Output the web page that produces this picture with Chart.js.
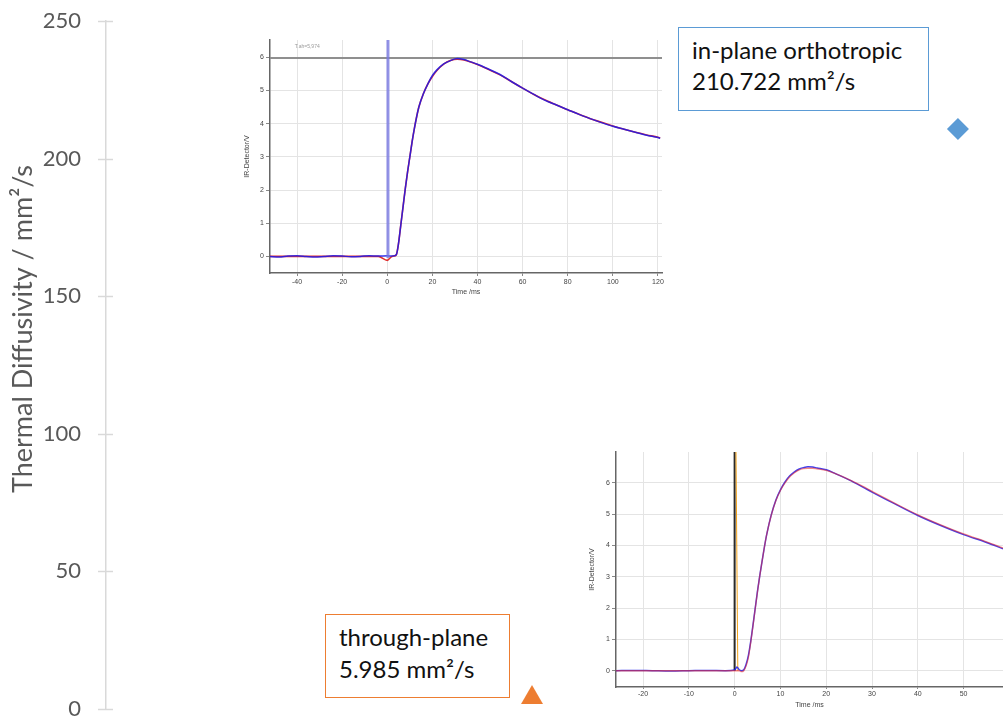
<!DOCTYPE html>
<html>
<head>
<meta charset="utf-8">
<script src="https://cdn.jsdelivr.net/npm/chart.js@4.4.1/dist/chart.umd.min.js"></script>
<style>
  html, body { margin: 0; padding: 0; background: #fff; overflow: hidden; }
  #wrap { position: relative; width: 1003px; height: 720px; }
  canvas { position: absolute; }
  .box { position: absolute; box-sizing: border-box; background: #fff;
         font-family: Lato, "Open Sans", sans-serif; font-size: 24px; line-height: 31px; color: #111; }
</style>
</head>
<body>
<div id="wrap">
  <canvas id="main" width="1003" height="720" style="left:0;top:0;"></canvas>
  <canvas id="inset1" width="431" height="268" style="left:239px;top:32px;"></canvas>
  <canvas id="inset2" width="419" height="267" style="left:584px;top:444px;"></canvas>
  <div class="box" style="left:678px;top:27px;width:251px;height:84px;border:1.5px solid #5B9BD5;padding:6px 0 0 13px;">in-plane orthotropic<br>210.722 mm²/s</div>
  <div class="box" style="left:325px;top:614px;width:185px;height:84px;border:1.5px solid #ED7D31;padding:6px 0 0 13px;line-height:32px;">through-plane<br>5.985 mm²/s</div>
</div>
<script>
// ---------- main chart data ----------
const seriesNames = ['through-plane', 'in-plane orthotropic'];
const seriesX = [1, 2];
const seriesValues = [5.985, 210.722];
const seriesColors = ['#ED7D31', '#5B9BD5'];
const yTicks = [0, 50, 100, 150, 200, 250];
const yTitle = 'Thermal Diffusivity / mm²/s';

// ---------- inset 1 (in-plane measurement) ----------
const inset1Time = [-52,-48,-44,-40,-36,-32,-28,-24,-20,-16,-12,-8,-4,0,2,3,4,5,6,7,8,9,10,11,12,13,14,16,18,20,22,25,28,31,34,37,40,45,50,55,60,65,70,75,80,85,90,95,100,105,110,115,120,121];
const inset1Measured = [0.0,-0.02,0.01,0.02,0.0,-0.02,0.0,0.02,0.01,-0.01,0.0,0.02,0.01,0.02,0.01,0.02,0.05,0.4,0.95,1.5,2.05,2.55,3.0,3.45,3.85,4.2,4.5,4.9,5.2,5.45,5.62,5.8,5.9,5.96,5.93,5.86,5.79,5.64,5.48,5.27,5.07,4.88,4.7,4.56,4.42,4.28,4.15,4.03,3.92,3.83,3.74,3.65,3.58,3.56];
const inset1Fit = [0,0,0,0,0,0,0,0,0,0,0,0,0,-0.12,0,0.01,0.05,0.4,0.95,1.5,2.05,2.55,3.0,3.45,3.85,4.2,4.5,4.9,5.2,5.42,5.6,5.79,5.9,5.94,5.92,5.86,5.78,5.63,5.47,5.27,5.07,4.88,4.71,4.56,4.42,4.28,4.15,4.04,3.93,3.83,3.74,3.66,3.59,3.57];
const inset1XTicks = [-40,-20,0,20,40,60,80,100,120];
const inset1YTicks = [0,1,2,3,4,5,6];
const inset1Level = 5.974;
const inset1LevelLabel = 'T.ah=5,974';
const inset1PulseTime = 0.3;

// ---------- inset 2 (through-plane measurement) ----------
const inset2Time = [-26,-22,-18,-14,-10,-6,-2,0,0.5,1,1.5,2,2.5,3,3.5,4,4.5,5,5.5,6,6.5,7,8,9,10,11,12,13,14,15,16,17,18,20,22,25,28,30,35,40,45,50,55,58.6];
const inset2Measured = [0,0.01,0,-0.01,0,0.01,0,0.02,0.12,0.03,0,0.03,0.2,0.48,0.92,1.45,2.0,2.55,3.05,3.5,3.95,4.35,4.98,5.45,5.78,6.03,6.22,6.35,6.44,6.49,6.52,6.51,6.48,6.42,6.3,6.1,5.87,5.71,5.33,4.96,4.64,4.35,4.1,3.9];
const inset2Fit = [0,0,0,0,0,0,0,0,0,0,-0.03,0.0,0.15,0.42,0.88,1.42,1.98,2.53,3.04,3.5,3.95,4.35,4.97,5.43,5.76,6.0,6.19,6.32,6.41,6.46,6.47,6.47,6.45,6.4,6.3,6.11,5.89,5.73,5.35,4.98,4.66,4.37,4.12,3.92];
const inset2XTicks = [-20,-10,0,10,20,30,40,50];
const inset2YTicks = [0,1,2,3,4,5,6];
const inset2PulseTop = [0.3, 7];
const inset2PulseBottom = [0.7, 0];

const xyPairs = (xs, ys) => xs.map((x, i) => ({x: x, y: ys[i]}));

// ---------- main chart ----------
function makeTriangle(color) {
  const c = document.createElement('canvas');
  c.width = 22; c.height = 23;
  const g = c.getContext('2d');
  g.fillStyle = color;
  g.beginPath(); g.moveTo(0, 23); g.lineTo(11, 4); g.lineTo(22, 23); g.closePath(); g.fill();
  return c;
}

const crossTicks = {
  id: 'crossTicks',
  afterDraw(chart) {
    const s = chart.scales.y, ctx = chart.ctx, x = s.right;
    ctx.save();
    ctx.strokeStyle = '#d9d9d9'; ctx.lineWidth = 1.5;
    s.ticks.forEach(t => {
      const y = Math.round(s.getPixelForValue(t.value)) + 0.5;
      ctx.beginPath(); ctx.moveTo(x - 8, y); ctx.lineTo(x + 7, y); ctx.stroke();
    });
    ctx.restore();
  }
};
const axisTitle = {
  id: 'axisTitle',
  afterDraw(chart) {
    const ctx = chart.ctx;
    ctx.save();
    ctx.translate(23, 329);
    ctx.rotate(-Math.PI / 2);
    ctx.font = '27px Lato, "Open Sans", sans-serif';
    ctx.fillStyle = '#595959';
    ctx.textAlign = 'center'; ctx.textBaseline = 'middle';
    ctx.fillText(yTitle, 0, 0);
    ctx.restore();
  }
};

new Chart(document.getElementById('main'), {
  type: 'scatter',
  data: {
    datasets: seriesNames.map((n, i) => ({
      label: n,
      data: [{x: seriesX[i], y: seriesValues[i]}],
      pointStyle: i === 0 ? makeTriangle(seriesColors[i]) : 'rectRot',
      pointRadius: 11,
      backgroundColor: seriesColors[i],
      borderColor: seriesColors[i],
      borderWidth: 0
    }))
  },
  options: {
    responsive: false, animation: false, devicePixelRatio: 1,
    layout: { padding: { top: 21, bottom: 10, left: 0, right: 0 } },
    plugins: { legend: { display: false }, tooltip: { enabled: false } },
    scales: {
      x: { type: 'linear', min: 0, max: 2.08, display: false },
      y: {
        min: 0, max: 250,
        afterBuildTicks: s => { s.ticks = yTicks.map(v => ({value: v})); },
        afterFit: s => { s.width = 106; },
        grid: { display: true, drawOnChartArea: false, drawTicks: true, tickLength: 23, tickColor: 'rgba(0,0,0,0)' },
        border: { display: true, color: '#d9d9d9', width: 1.5 },
        ticks: { padding: 2, color: '#595959', font: { family: 'Lato, "Open Sans", sans-serif', size: 22, lineHeight: 0.6 } }
      }
    }
  },
  plugins: [crossTicks, axisTitle]
});

// ---------- insets ----------
const insetFont = { family: '"Liberation Sans", Arial, sans-serif', size: 7 };

function insetScales(o) {
  return {
    x: {
      type: 'linear', min: o.xmin, max: o.xmax,
      afterBuildTicks: s => { s.ticks = o.xticks.map(v => ({value: v})); },
      afterFit: s => { s.height = o.xh; },
      grid: { color: '#e4e4e4', tickLength: o.xtl, tickColor: '#888' },
      border: { color: '#666', width: 1.5 },
      ticks: { padding: o.xtp, color: '#444', font: insetFont },
      title: { display: true, text: 'Time /ms', color: '#444', font: insetFont, padding: { top: 0, bottom: o.ttb } }
    },
    y: {
      min: o.ymin, max: o.ymax,
      afterBuildTicks: s => { s.ticks = o.yticks.map(v => ({value: v})); },
      afterFit: s => { s.width = o.yw; },
      grid: { color: '#e4e4e4', tickLength: 4, tickColor: '#888' },
      border: { color: '#666', width: 1.5 },
      ticks: { padding: 2, color: '#444', font: insetFont },
      title: { display: true, text: 'IR-Detector/V', color: '#444', font: insetFont, padding: { top: 4, bottom: 0 } }
    }
  };
}

const lineDs = (data, color, width) => ({
  data: data, borderColor: color, borderWidth: width, pointRadius: 0, fill: false,
  cubicInterpolationMode: 'monotone'
});

const levelLabel = {
  id: 'levelLabel',
  afterDraw(chart) {
    const ctx = chart.ctx, sx = chart.scales.x, sy = chart.scales.y;
    ctx.save();
    ctx.font = '5px "Liberation Sans", Arial, sans-serif';
    ctx.fillStyle = '#9a9a9a'; ctx.textBaseline = 'middle';
    ctx.fillText(inset1LevelLabel, sx.getPixelForValue(-41), sy.getPixelForValue(6.32));
    ctx.restore();
  }
};

// Chart.js paints the first dataset on top
new Chart(document.getElementById('inset1'), {
  type: 'line',
  data: {
    datasets: [
      Object.assign(lineDs([{x: inset1PulseTime, y: 6.52}, {x: inset1PulseTime, y: -0.05}], 'rgba(120,120,225,0.8)', 3), {cubicInterpolationMode: 'default'}),
      lineDs(xyPairs(inset1Time, inset1Measured), 'rgba(25,25,235,0.85)', 1.5),
      lineDs(xyPairs(inset1Time, inset1Fit), '#e03030', 1.6),
      lineDs([{x: inset1Time[0], y: inset1Level}, {x: 121.8, y: inset1Level}], '#8f8f8f', 2)
    ]
  },
  options: {
    responsive: false, animation: false, devicePixelRatio: 1,
    layout: { padding: { top: 8, right: 8, left: 0, bottom: 0 } },
    plugins: { legend: { display: false }, tooltip: { enabled: false } },
    scales: insetScales({ xmin: -52, xmax: 121.8, ymin: -0.5, ymax: 6.52, xticks: inset1XTicks, yticks: inset1YTicks,
                          xh: 27, xtl: 3, xtp: 2, ttb: 4, yw: 31 })
  },
  plugins: [levelLabel]
});

new Chart(document.getElementById('inset2'), {
  type: 'line',
  data: {
    datasets: [
      lineDs(xyPairs(inset2Time, inset2Fit), 'rgba(235,40,40,0.55)', 1.3),
      lineDs(xyPairs(inset2Time, inset2Measured), 'rgba(30,30,235,0.85)', 1.5),
      Object.assign(lineDs([{x: inset2PulseTop[0], y: inset2PulseTop[1]}, {x: inset2PulseBottom[0], y: inset2PulseBottom[1]}], '#f2a31b', 1), {cubicInterpolationMode: 'default'}),
      Object.assign(lineDs([{x: 0, y: 7}, {x: 0, y: 0}], '#2a2a2a', 2), {cubicInterpolationMode: 'default'})
    ]
  },
  options: {
    responsive: false, animation: false, devicePixelRatio: 1,
    layout: { padding: { top: 8, right: 0, left: 0, bottom: 0 } },
    plugins: { legend: { display: false }, tooltip: { enabled: false } },
    scales: insetScales({ xmin: -25.9, xmax: 58.6, ymin: -0.52, ymax: 6.99, xticks: inset2XTicks, yticks: inset2YTicks,
                          xh: 24, xtl: 2, xtp: 1, ttb: 2, yw: 32 })
  }
});
</script>
</body>
</html>
